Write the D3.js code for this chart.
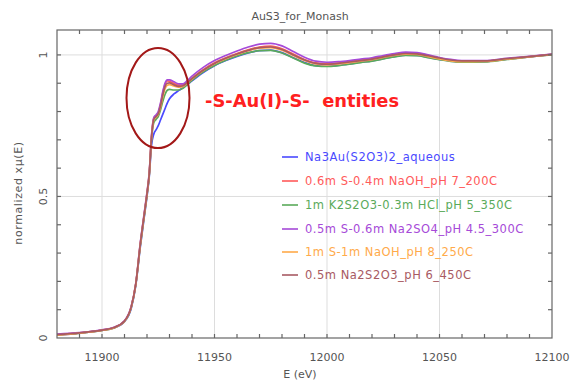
<!DOCTYPE html>
<html>
<head>
<meta charset="utf-8">
<script src="https://cdn.jsdelivr.net/npm/d3@7"></script>
<style>
  body { margin: 0; background: #fff; }
  svg text { font-family: "DejaVu Sans", sans-serif; }
</style>
</head>
<body>
<svg id="chart" width="573" height="381"></svg>
<script>
// ── Data ──────────────────────────────────────────────────────────────────────
const energy = [11880, 11890, 11900, 11905, 11910, 11913, 11915, 11917, 11919, 11920, 11921,
  11922, 11923, 11924, 11925, 11926, 11927, 11928, 11929, 11930, 11932, 11934, 11936, 11938, 11940,
  11945, 11950, 11955, 11960, 11965, 11970, 11975, 11980, 11985, 11990, 11995, 12000,
  12005, 12010, 12015, 12020, 12025, 12030, 12035, 12040, 12045, 12050, 12055, 12060, 12070, 12080, 12090, 12100];

const aqueous = [0.010, 0.017, 0.027, 0.035, 0.058, 0.105, 0.185, 0.32, 0.44, 0.50, 0.57,
  0.68, 0.72, 0.735, 0.75, 0.77, 0.79, 0.81, 0.83, 0.845, 0.862, 0.874, 0.884, 0.895, 0.908,
  0.938, 0.962, 0.98, 0.995, 1.007, 1.015, 1.017, 1.008, 0.99, 0.973, 0.962, 0.96,
  0.963, 0.968, 0.974, 0.979, 0.987, 0.994, 0.999, 0.998, 0.991, 0.984, 0.978, 0.975, 0.976, 0.985, 0.993, 1.001];

const naoh200 = [0.012, 0.018, 0.028, 0.036, 0.060, 0.110, 0.19, 0.33, 0.45, 0.51, 0.58,
  0.71, 0.775, 0.785, 0.795, 0.825, 0.865, 0.895, 0.908, 0.907, 0.899, 0.893, 0.894, 0.905, 0.918,
  0.948, 0.972, 0.99, 1.005, 1.018, 1.028, 1.031, 1.022, 1.003, 0.984, 0.972, 0.969,
  0.971, 0.976, 0.981, 0.986, 0.994, 1.001, 1.006, 1.004, 0.996, 0.988, 0.981, 0.977, 0.978, 0.986, 0.994, 1.002];

const hcl350 = [0.011, 0.017, 0.027, 0.035, 0.059, 0.108, 0.188, 0.325, 0.445, 0.505, 0.575,
  0.70, 0.76, 0.772, 0.782, 0.805, 0.835, 0.86, 0.875, 0.878, 0.876, 0.876, 0.882, 0.896, 0.91,
  0.94, 0.963, 0.981, 0.996, 1.008, 1.015, 1.016, 1.007, 0.989, 0.971, 0.961, 0.959,
  0.962, 0.967, 0.973, 0.978, 0.986, 0.993, 0.998, 0.997, 0.99, 0.983, 0.977, 0.974, 0.975, 0.984, 0.993, 1.0];

const na2so4300 = [0.014, 0.019, 0.029, 0.037, 0.061, 0.112, 0.192, 0.335, 0.455, 0.515, 0.585,
  0.715, 0.778, 0.788, 0.80, 0.83, 0.87, 0.9, 0.912, 0.912, 0.905, 0.898, 0.898, 0.91, 0.925,
  0.956, 0.98, 0.998, 1.014, 1.028, 1.038, 1.041, 1.032, 1.012, 0.992, 0.978, 0.974,
  0.976, 0.98, 0.985, 0.99, 0.998, 1.005, 1.01, 1.008, 1.0, 0.991, 0.984, 0.98, 0.98, 0.988, 0.995, 1.003];

const naoh250 = [0.010, 0.017, 0.027, 0.035, 0.059, 0.109, 0.189, 0.328, 0.448, 0.508, 0.578,
  0.705, 0.77, 0.78, 0.79, 0.815, 0.852, 0.88, 0.893, 0.895, 0.89, 0.886, 0.889, 0.902, 0.915,
  0.945, 0.969, 0.987, 1.002, 1.015, 1.024, 1.026, 1.017, 0.998, 0.98, 0.968, 0.965,
  0.968, 0.973, 0.978, 0.983, 0.991, 0.998, 1.003, 1.002, 0.994, 0.986, 0.979, 0.976, 0.977, 0.985, 0.993, 1.001];

const na2s2o3450 = [0.012, 0.018, 0.028, 0.036, 0.060, 0.110, 0.19, 0.33, 0.45, 0.51, 0.58,
  0.708, 0.772, 0.782, 0.792, 0.82, 0.858, 0.888, 0.90, 0.901, 0.894, 0.889, 0.891, 0.903, 0.916,
  0.946, 0.97, 0.988, 1.003, 1.016, 1.026, 1.028, 1.019, 1.0, 0.982, 0.97, 0.967,
  0.97, 0.975, 0.98, 0.985, 0.993, 1.0, 1.005, 1.004, 0.997, 0.989, 0.982, 0.979, 0.979, 0.987, 0.994, 1.002];

const seriesNames = ["Na3Au(S2O3)2_aqueous", "0.6m S-0.4m NaOH_pH 7_200C", "1m K2S2O3-0.3m HCl_pH 5_350C",
  "0.5m S-0.6m Na2SO4_pH 4.5_300C", "1m S-1m NaOH_pH 8_250C", "0.5m Na2S2O3_pH 6_450C"];
const seriesValues = [aqueous, naoh200, hcl350, na2so4300, naoh250, na2s2o3450];
const seriesColors = ["#4a4aff", "#ff5a5a", "#5aaa5a", "#a64ad8", "#ffaa4a", "#a85a62"];

const xTicks = [11900, 11950, 12000, 12050, 12100];
const yTicks = [0, 0.5, 1];

// ── Layout ────────────────────────────────────────────────────────────────────
const L = 57, R = 552, T = 30, B = 338;
const svg = d3.select("#chart");
const x = d3.scaleLinear().domain([11880, 12100]).range([L, R]);
const y = d3.scaleLinear().domain([0, 1.088]).range([B, T]);
const axisCol = "#666";

// gridlines
svg.append("g").selectAll("line").data(xTicks.filter(d => d < 12100)).join("line")
  .attr("x1", d => x(d)).attr("x2", d => x(d)).attr("y1", T).attr("y2", B)
  .attr("stroke", "#ddd");
svg.append("g").selectAll("line").data(yTicks.filter(d => d > 0)).join("line")
  .attr("x1", L).attr("x2", R).attr("y1", d => y(d)).attr("y2", d => y(d))
  .attr("stroke", "#ddd");

// curves
const line = d3.line().x((d, i) => x(energy[i])).y(d => y(d)).curve(d3.curveMonotoneX);
svg.append("g").selectAll("path").data(seriesValues).join("path")
  .attr("d", line).attr("fill", "none")
  .attr("stroke", (d, i) => seriesColors[i]).attr("stroke-width", 1.7);

// frame + inward ticks (every 10 eV / 0.1)
const tickSize = 4;
const minorX = d3.range(11890, 12100, 10);
const minorY = d3.range(0.1, 1.05, 0.1);
const frame = svg.append("g").attr("stroke", axisCol).attr("fill", "none").attr("stroke-width", 1.2);
frame.append("rect").attr("x", L).attr("y", T).attr("width", R - L).attr("height", B - T);
minorX.forEach(v => {
  frame.append("line").attr("x1", x(v)).attr("x2", x(v)).attr("y1", B).attr("y2", B - tickSize);
  frame.append("line").attr("x1", x(v)).attr("x2", x(v)).attr("y1", T).attr("y2", T + tickSize);
});
minorY.forEach(v => {
  frame.append("line").attr("y1", y(v)).attr("y2", y(v)).attr("x1", L).attr("x2", L + tickSize);
  frame.append("line").attr("y1", y(v)).attr("y2", y(v)).attr("x1", R).attr("x2", R - tickSize);
});

// tick labels
svg.append("g").selectAll("text").data(xTicks).join("text")
  .attr("x", d => x(d)).attr("y", 361).attr("text-anchor", "middle")
  .attr("font-size", 11).attr("fill", "#555").text(d => d);
svg.append("g").selectAll("text").data(yTicks).join("text")
  .attr("transform", d => `translate(47,${y(d)}) rotate(-90)`)
  .attr("text-anchor", "middle").attr("font-size", 11).attr("fill", "#555")
  .text(d => d);

// titles
svg.append("text").attr("x", 300).attr("y", 20).attr("text-anchor", "middle")
  .attr("font-size", 11).attr("fill", "#555").text("AuS3_for_Monash");
svg.append("text").attr("x", 300).attr("y", 378).attr("text-anchor", "middle")
  .attr("font-size", 11).attr("fill", "#555").text("E (eV)");
svg.append("text").attr("transform", "translate(22,193) rotate(-90)")
  .attr("text-anchor", "middle").attr("font-size", 11).attr("letter-spacing", 0.6)
  .attr("fill", "#555").text("normalized xμ(E)");

// legend
const legY = [157, 181, 205, 229, 252, 275];
const leg = svg.append("g").selectAll("g").data(seriesNames).join("g")
  .attr("transform", (d, i) => `translate(0,${legY[i]})`);
leg.append("line").attr("x1", 282).attr("x2", 298)
  .attr("stroke", (d, i) => seriesColors[i]).attr("stroke-width", 1.6);
leg.append("text").attr("x", 305).attr("y", 4).attr("font-size", 11.5)
  .attr("letter-spacing", 0.5)
  .attr("fill", (d, i) => seriesColors[i]).text(d => d);

// annotation
svg.append("ellipse").attr("cx", 158).attr("cy", 98).attr("rx", 31.5).attr("ry", 50)
  .attr("fill", "none").attr("stroke", "#a31818").attr("stroke-width", 2);
svg.append("text").attr("x", 205).attr("y", 107)
  .attr("font-size", 17).attr("font-weight", "bold").attr("fill", "#ff2020")
  .attr("textLength", 194).attr("lengthAdjust", "spacingAndGlyphs")
  .attr("xml:space", "preserve").text("-S-Au(I)-S-  entities");
</script>
</body>
</html>
